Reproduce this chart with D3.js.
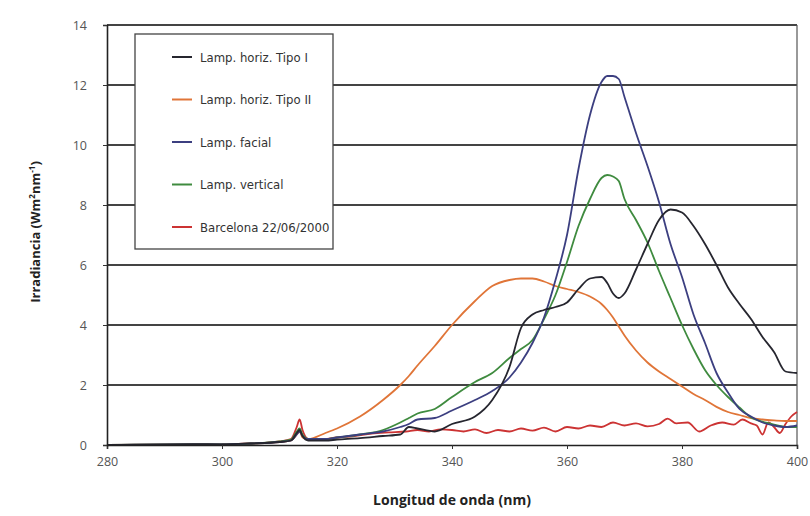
<!DOCTYPE html>
<html>
<head>
<meta charset="utf-8">
<script src="https://cdn.jsdelivr.net/npm/d3@7"></script>
<style>
  body { margin: 0; background: #fff; }
  text { font-family: "Open Sans", "DejaVu Sans", sans-serif; }
</style>
</head>
<body>
<div id="chart"></div>
<script>
var width = 810,
    height = 516;

var margin = { top: 25, right: 13, bottom: 71, left: 107 };

// wavelengths (nm) shared by the four lamps
var wavelengths = [280, 295, 300, 305, 310, 312, 313, 313.5, 314, 315, 318, 320, 324, 328, 331, 332.5, 334, 337,
  340, 344, 347, 350, 352, 354, 356, 358, 360, 362, 364, 366, 367, 368, 369, 370, 372, 374, 376, 378,
  380, 382, 384, 386, 388, 390, 392, 394, 396, 398, 400];

var tipo1 = [0, 0.03, 0.02, 0.05, 0.1, 0.15, 0.4, 0.5, 0.3, 0.15, 0.15, 0.18, 0.23, 0.3, 0.35, 0.6, 0.55, 0.45,
  0.7, 0.95, 1.5, 2.6, 3.9, 4.35, 4.5, 4.6, 4.75, 5.2, 5.55, 5.6, 5.4, 5.05, 4.9, 5.05, 5.85, 6.7, 7.5, 7.85,
  7.75, 7.3, 6.7, 6.0, 5.25, 4.7, 4.2, 3.6, 3.1, 2.45, 2.4];

var tipo2 = [0, 0.02, 0.02, 0.05, 0.1, 0.15, 0.35, 0.45, 0.25, 0.2, 0.4, 0.55, 0.95, 1.5, 2.0, 2.3, 2.65, 3.3,
  4.0, 4.8, 5.3, 5.5, 5.55, 5.55, 5.45, 5.3, 5.2, 5.1, 4.95, 4.7, 4.5, 4.25, 3.95, 3.65, 3.15, 2.75, 2.45, 2.2,
  1.95, 1.7, 1.5, 1.27, 1.1, 1.0, 0.9, 0.85, 0.82, 0.8, 0.8];

var facial = [0, 0.02, 0.02, 0.05, 0.1, 0.15, 0.35, 0.45, 0.3, 0.2, 0.2, 0.25, 0.35, 0.45, 0.6, 0.7, 0.85, 0.9,
  1.15, 1.5, 1.8, 2.25, 2.75, 3.4, 4.25, 5.5, 7.0, 9.2, 11.0, 12.1, 12.3, 12.3, 12.2, 11.6, 10.4, 9.3, 8.1, 6.7,
  5.6, 4.35, 3.4, 2.4, 1.75, 1.2, 0.95, 0.75, 0.65, 0.6, 0.65];

var vertical = [0, 0.02, 0.02, 0.05, 0.12, 0.18, 0.45, 0.55, 0.35, 0.2, 0.2, 0.25, 0.35, 0.5, 0.75, 0.9, 1.05, 1.2,
  1.6, 2.1, 2.4, 2.9, 3.2, 3.5, 4.2, 5.0, 6.1, 7.3, 8.2, 8.9, 9.0, 8.95, 8.8, 8.2, 7.5, 6.75, 5.8, 4.9,
  4.0, 3.2, 2.5, 2.0, 1.6, 1.25, 0.92, 0.78, 0.68, 0.6, 0.6];

// Barcelona measurement, own wavelength grid
var wavelengthsBcn = [300, 305, 308, 310, 312, 313, 313.5, 314, 315, 317, 320, 323, 326, 329, 332, 334, 336, 338,
  340, 342, 344, 346, 348, 350, 352, 354, 356, 358, 360, 362, 364, 366, 368, 370, 372, 374, 376, 377.5, 379,
  381, 383, 385, 387, 389, 390.5, 392, 393, 394, 395, 396, 397, 398, 399, 400];

var barcelona = [0.02, 0.05, 0.08, 0.12, 0.2, 0.6, 0.85, 0.5, 0.2, 0.18, 0.25, 0.3, 0.38, 0.42, 0.45, 0.5, 0.45, 0.52,
  0.5, 0.45, 0.52, 0.4, 0.5, 0.45, 0.55, 0.48, 0.58, 0.45, 0.6, 0.55, 0.65, 0.6, 0.75, 0.65, 0.72, 0.62, 0.7, 0.88,
  0.72, 0.75, 0.45, 0.65, 0.75, 0.68, 0.85, 0.72, 0.65, 0.35, 0.75, 0.6, 0.4, 0.7, 0.95, 1.1];

var seriesNames = ["Lamp. horiz. Tipo I", "Lamp. horiz. Tipo II", "Lamp. facial", "Lamp. vertical", "Barcelona 22/06/2000"];
var seriesColors = ["#26262f", "#e07538", "#3c3f80", "#3f8b3f", "#cc3333"];

var xTicks = [280, 300, 320, 340, 360, 380, 400];
var yTicks = [0, 2, 4, 6, 8, 10, 12, 14];

var series = [
  { name: seriesNames[0], color: seriesColors[0], xs: wavelengths, ys: tipo1 },
  { name: seriesNames[1], color: seriesColors[1], xs: wavelengths, ys: tipo2 },
  { name: seriesNames[2], color: seriesColors[2], xs: wavelengths, ys: facial },
  { name: seriesNames[3], color: seriesColors[3], xs: wavelengths, ys: vertical },
  { name: seriesNames[4], color: seriesColors[4], xs: wavelengthsBcn, ys: barcelona }
];

var svg = d3.select("#chart").append("svg")
    .attr("width", width)
    .attr("height", height);

var x = d3.scaleLinear().domain([280, 400]).range([margin.left, width - margin.right]);
var y = d3.scaleLinear().domain([0, 14]).range([height - margin.bottom, margin.top]);

// horizontal grid
svg.append("g").selectAll("line")
    .data(yTicks.filter(function(d) { return d > 0; }))
  .enter().append("line")
    .attr("x1", x(280)).attr("x2", x(400))
    .attr("y1", function(d) { return y(d); })
    .attr("y2", function(d) { return y(d); })
    .style("stroke", "#444")
    .style("stroke-width", 1.8);

// right border
svg.append("line")
    .attr("x1", x(400)).attr("x2", x(400))
    .attr("y1", y(0)).attr("y2", y(14))
    .style("stroke", "#555")
    .style("stroke-width", 1.2);

var line = d3.line()
    .x(function(d) { return x(d[0]); })
    .y(function(d) { return y(d[1]); })
    .curve(d3.curveMonotoneX);

// Barcelona first, the lamps on top
var drawOrder = [4, 1, 3, 2, 0];
drawOrder.forEach(function(i) {
  var s = series[i];
  var pts = s.xs.map(function(v, j) { return [v, s.ys[j]]; });
  svg.append("path")
      .datum(pts)
      .attr("d", line)
      .style("fill", "none")
      .style("stroke", s.color)
      .style("stroke-width", 1.8)
      .style("stroke-linejoin", "round");
});

// axes
var xAxis = d3.axisBottom(x).tickValues(xTicks).tickSize(4).tickPadding(8);
var yAxis = d3.axisLeft(y).tickValues(yTicks).tickSize(4).tickPadding(16);

var gx = svg.append("g")
    .attr("transform", "translate(0," + y(0) + ")")
    .call(xAxis);
var gy = svg.append("g")
    .attr("transform", "translate(" + x(280) + ",0)")
    .call(yAxis);

[gx, gy].forEach(function(g) {
  g.select(".domain").style("stroke", "#222").style("stroke-width", 1.6);
  g.selectAll(".tick line").style("stroke", "#333");
  g.selectAll(".tick text")
    .style("font-family", "'Open Sans', sans-serif")
    .style("font-size", "12.5px")
    .style("fill", "#555");
});

// axis titles
svg.append("text")
    .attr("x", 452)
    .attr("y", 505)
    .attr("text-anchor", "middle")
    .style("font-size", "14px")
    .style("font-weight", "bold")
    .style("fill", "#222")
    .text("Longitud de onda (nm)");

var yTitle = svg.append("text")
    .attr("transform", "translate(40," + 232 + ") rotate(-90)")
    .attr("text-anchor", "middle")
    .style("font-size", "13px")
    .style("font-weight", "bold")
    .style("fill", "#222");
yTitle.append("tspan").text("Irradiancia (Wm");
yTitle.append("tspan").attr("baseline-shift", "super").style("font-size", "8px").text("2");
yTitle.append("tspan").text("nm");
yTitle.append("tspan").attr("baseline-shift", "super").style("font-size", "8px").text("-1");
yTitle.append("tspan").text(")");

// legend
var legend = svg.append("g").attr("transform", "translate(135,34)");
legend.append("rect")
    .attr("width", 198)
    .attr("height", 215)
    .style("fill", "#fff")
    .style("stroke", "#444")
    .style("stroke-width", 1.3);

var item = legend.selectAll("g.item")
    .data(series)
  .enter().append("g")
    .attr("class", "item")
    .attr("transform", function(d, i) { return "translate(0," + (23 + i * 42.5) + ")"; });

item.append("line")
    .attr("x1", 37).attr("x2", 57)
    .style("stroke", function(d) { return d.color; })
    .style("stroke-width", 2);

item.append("text")
    .attr("x", 65)
    .attr("dy", "0.35em")
    .style("font-family", "'Liberation Sans Narrow', 'DejaVu Sans Condensed', sans-serif")
    .style("font-size", "13px")
    .style("fill", "#333")
    .text(function(d) { return d.name; });
</script>
</body>
</html>
